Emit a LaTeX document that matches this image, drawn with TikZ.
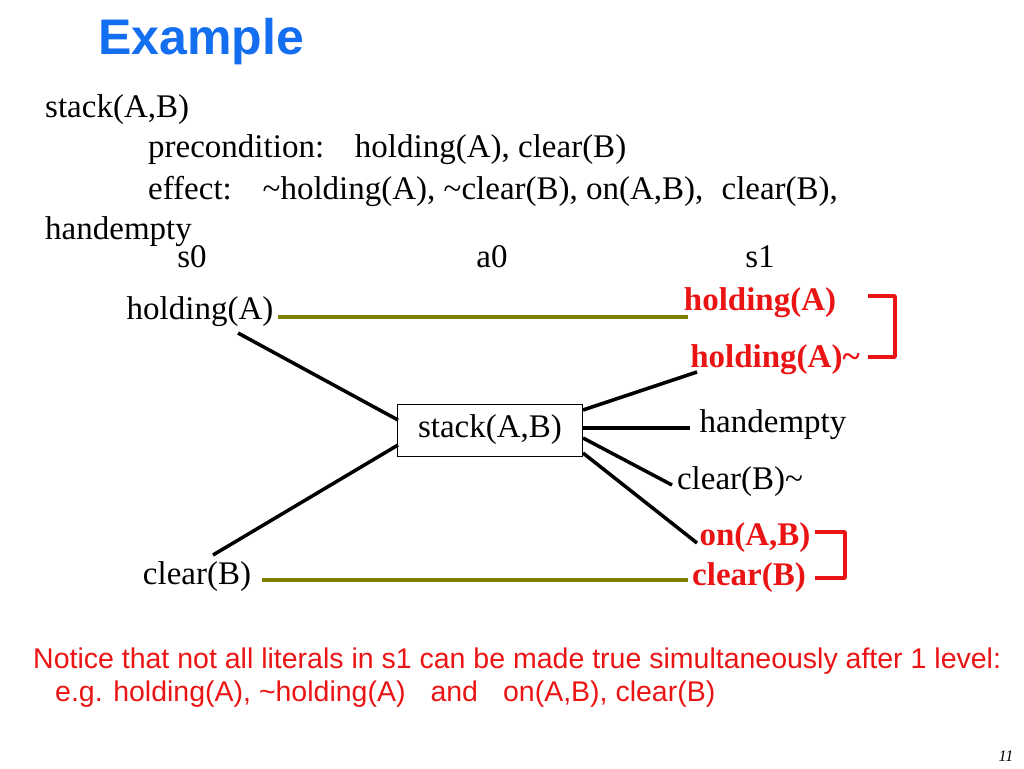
\documentclass[tikz,border=0pt]{standalone}
\usepackage{fontspec}
\setmainfont{Liberation Serif}
\setsansfont{Liberation Sans}
\definecolor{ttl}{RGB}{20,110,240}
\definecolor{olv}{RGB}{128,128,0}
\definecolor{rd}{RGB}{235,20,20}
\begin{document}
\begin{tikzpicture}[x=1pt,y=-1pt,
  txt/.style={font=\fontsize{33}{38}\selectfont,inner sep=0pt},
  rtxt/.style={txt,font=\fontsize{33}{38}\selectfont\bfseries,text=rd},
  blk/.style={line width=3.5pt,black},
  olive/.style={line width=3.5pt,olv},
  brk/.style={line width=3.5pt,rd},
  note/.style={font=\sffamily\fontsize{28.5}{32}\selectfont,text=rd,inner sep=0pt,anchor=west}]
\useasboundingbox (0,0) rectangle (1024,768);
\node[font=\sffamily\bfseries\fontsize{50}{54}\selectfont,text=ttl,anchor=west] (title) at (95,42) {Example};
\node[txt,anchor=west] (op) at (45,110) {stack(A,B)};
\node[txt,anchor=west] (pre) at (148,150) {precondition:\hspace{0.6em} holding(A), clear(B)};
\node[txt,anchor=west] (eff) at (148,191) {effect:\hspace{0.6em} \char`~holding(A), \char`~clear(B), on(A,B),\hspace{0.3em} clear(B),};
\node[txt,anchor=west] (he) at (45,232) {handempty};
\node[txt] (s0) at (192,257) {s0};
\node[txt] (a0) at (492,257) {a0};
\node[txt] (s1) at (760,257) {s1};
\node[txt] (hA) at (200,312) {holding(A)};
\node[txt] (cB) at (197,577) {clear(B)};
\node[draw,thick,minimum width=185pt,minimum height=52pt,txt] (box) at (490,430) {stack(A,B)};
\node[rtxt] (rhA) at (760,303) {holding(A)};
\node[rtxt] (rnhA) at (775,360) {holding(A)\char`~};
\node[txt] (hemp) at (773,425) {handempty};
\node[txt] (ncB) at (740,482) {clear(B)\char`~};
\node[rtxt] (ron) at (755,538) {on(A,B)};
\node[rtxt] (rcB) at (749,578) {clear(B)};
\coordinate (o1a) at (278,317); \coordinate (o1b) at (688,317);
\coordinate (o2a) at (262,580); \coordinate (o2b) at (688,580);
\draw[olive] (o1a) -- (o1b);
\draw[olive] (o2a) -- (o2b);
\coordinate (l1) at (238,333); \coordinate (l2) at (213,555);
\draw[blk] (l1) -- (398,420);
\draw[blk] (l2) -- (398,445);
\coordinate (e1) at (697,372); \coordinate (e2) at (690,428); \coordinate (e3) at (672,485); \coordinate (e4) at (697,543);
\draw[blk] (583,410) -- (e1);
\draw[blk] (583,428) -- (e2);
\draw[blk] (583,438) -- (e3);
\draw[blk] (583,453) -- (e4);
\draw[brk,line join=round] (868,296) -- (895,296) -- (895,357) -- (868,357);
\draw[brk,line join=round] (815,532) -- (845,532) -- (845,578) -- (815,578);
\node[note] (n1) at (33,661) {Notice that not all literals in s1 can be made true simultaneously after 1 level:};
\node[note] (n2) at (55,694) {e.g. holding(A), \char`~holding(A)\hspace{0.6em} and\hspace{0.6em} on(A,B), clear(B)};
\node[font=\itshape\fontsize{16}{18}\selectfont] (pg) at (1006,756) {11};
\end{tikzpicture}
\end{document}
